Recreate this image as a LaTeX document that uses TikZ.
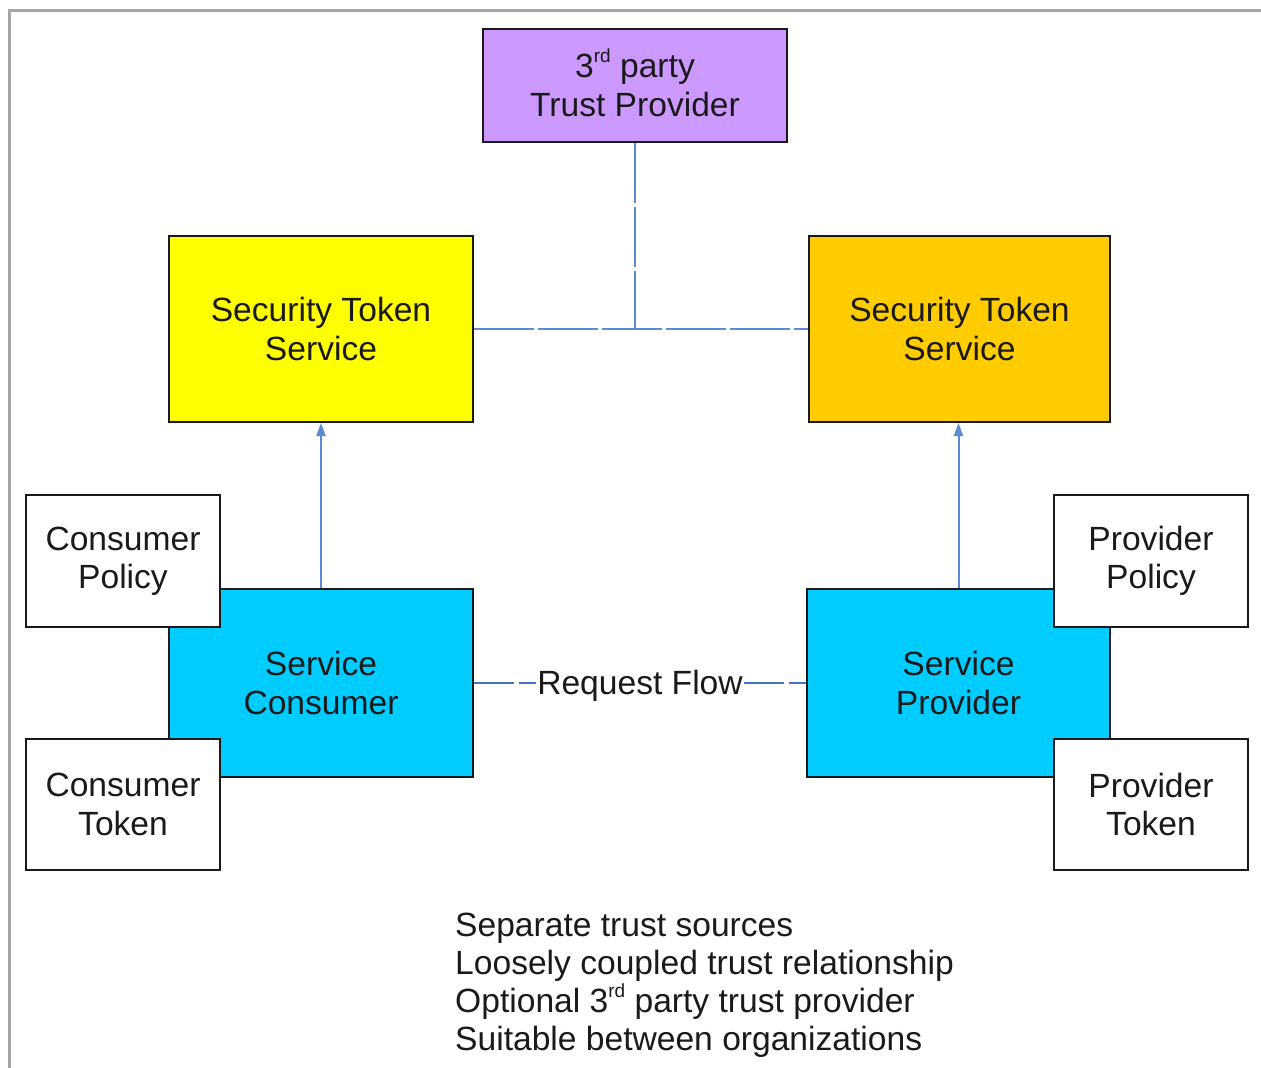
\documentclass[tikz,border=0pt]{standalone}
\usepackage{fontspec}
\setmainfont{Liberation Sans}
\usetikzlibrary{arrows.meta}
\definecolor{purplebox}{HTML}{CC99FF}
\definecolor{yellowbox}{HTML}{FFFF00}
\definecolor{amberbox}{HTML}{FFCC00}
\definecolor{cyanbox}{HTML}{00CCFF}
\definecolor{linkblue}{HTML}{5A8AD4}
\definecolor{flowblue}{HTML}{4472C4}
\definecolor{framegrey}{HTML}{A6A6A6}
\definecolor{ink}{HTML}{1A1A1A}
% small raised ordinal suffix, taking no extra line height
\newcommand{\ordsuf}[1]{\raisebox{0.45em}[0pt][0pt]{\fontsize{19}{19}\selectfont #1}}
\tikzset{
  box/.style={draw=ink, line width=2pt, align=center, text=ink, inner sep=0pt,
    font=\fontsize{33.6}{38.5}\selectfont},
  trust/.style={dash pattern=on 60pt off 4pt, draw=linkblue, line width=1.6pt},
  tokenarrow/.style={draw=linkblue, line width=2pt, -{Triangle[length=13pt,width=9pt]}},
  flow/.style={dash pattern=on 40pt off 5pt, draw=flowblue, line width=2.5pt},
}
\begin{document}
\begin{tikzpicture}[x=1pt, y=-1pt]
  \useasboundingbox (0,0) rectangle (1261,1068);
  % page frame
  \draw[framegrey, line width=2.5pt] (9.5,1068) -- (9.5,10.5) -- (1261,10.5);

  % trust provider and the two token services
  \node[box, fill=purplebox, minimum width=304pt, minimum height=113pt] (tp) at (635,85.5)
    {3\ordsuf{rd} party\\Trust Provider};
  \node[box, fill=yellowbox, minimum width=304pt, minimum height=186pt] (stsL) at (321,329)
    {Security Token\\Service};
  \node[box, fill=amberbox, minimum width=301pt, minimum height=186pt] (stsR) at (959.5,329)
    {Security Token\\Service};

  % consumer and provider
  \node[box, fill=cyanbox, minimum width=304pt, minimum height=188pt] (sc) at (321,683)
    {Service\\Consumer};
  \node[box, fill=cyanbox, minimum width=303pt, minimum height=188pt] (sp) at (958.5,683)
    {Service\\Provider};

  % policies and tokens
  \node[box, fill=white, minimum width=194pt, minimum height=132pt] (cpol) at (123,561)
    {Consumer\\Policy};
  \node[box, fill=white, minimum width=194pt, minimum height=131pt] (ctok) at (123,804.5)
    {Consumer\\Token};
  \node[box, fill=white, minimum width=194pt, minimum height=132pt] (ppol) at (1151,561)
    {Provider\\Policy};
  \node[box, fill=white, minimum width=194pt, minimum height=131pt] (ptok) at (1151,804.5)
    {Provider\\Token};

  % trust links
  \coordinate (junction) at (635,329);
  \draw[trust] (tp.south) -- (junction);
  \draw[trust] (stsL.east) -- (stsR.west);

  % token requests
  \draw[tokenarrow] (sc.north) -- (stsL.south);
  \draw[tokenarrow] (sp.north) -- (sp.north |- stsR.south);

  % request flow
  \draw[flow] (sc.east) -- node[fill=white, inner sep=1pt, text=ink, yshift=-3pt,
    font=\fontsize{33.6}{39}\selectfont] (rf) {Request Flow} (sp.west);

  % notes
  \node[anchor=west, align=left, inner sep=0pt, text=ink,
    font=\fontsize{33.6}{38}\selectfont] (notes) at (455,985)
    {Separate trust sources\\Loosely coupled trust relationship\\
     Optional 3\ordsuf{rd} party trust provider\\Suitable between organizations};
\end{tikzpicture}
\end{document}
